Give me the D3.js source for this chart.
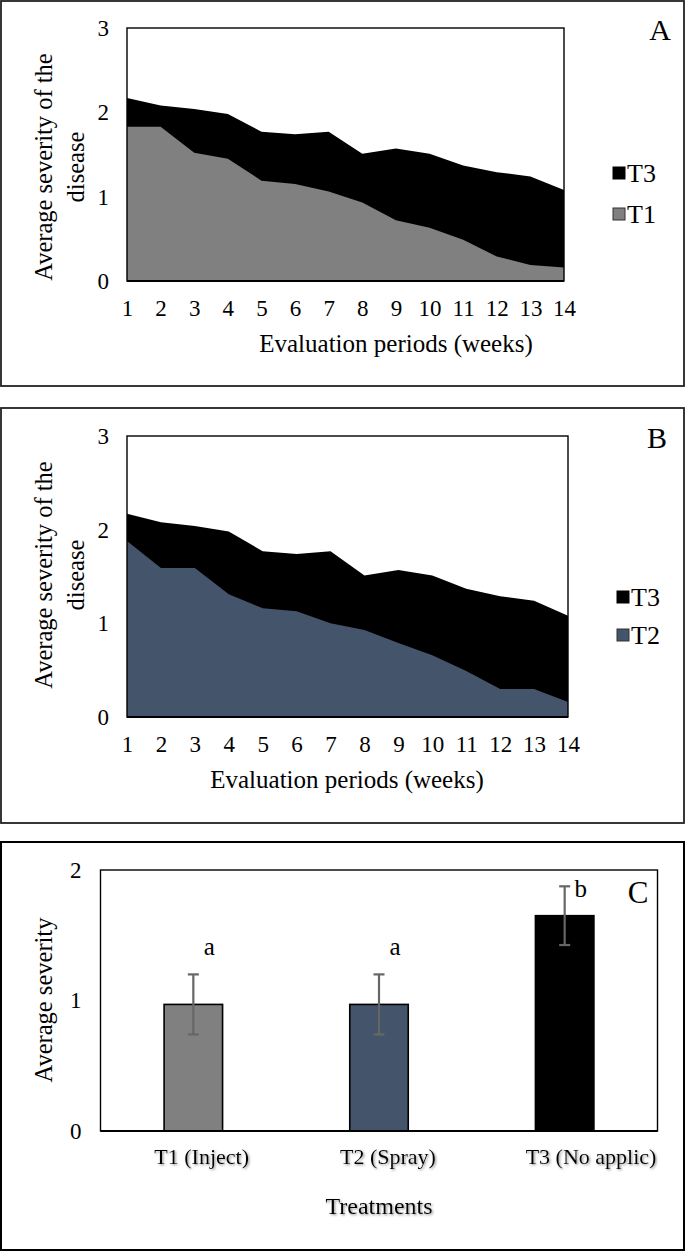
<!DOCTYPE html>
<html>
<head>
<meta charset="utf-8">
<script src="https://cdn.jsdelivr.net/npm/d3@7"></script>
<style>
  html, body { margin: 0; padding: 0; background: #fff; }
  svg { display: block; }
  text { font-family: "Liberation Serif", "Times New Roman", serif; fill: #000; }
</style>
</head>
<body>
<script>
// ---------------- DATA ----------------
const weeks = [1, 2, 3, 4, 5, 6, 7, 8, 9, 10, 11, 12, 13, 14];
const t3Severity = [2.17, 2.08, 2.04, 1.98, 1.77, 1.74, 1.77, 1.51, 1.57, 1.51, 1.37, 1.29, 1.24, 1.08];
const t1Severity = [1.83, 1.83, 1.52, 1.45, 1.19, 1.15, 1.06, 0.93, 0.72, 0.63, 0.49, 0.29, 0.19, 0.16];
const t2Severity = [1.88, 1.59, 1.59, 1.31, 1.16, 1.13, 1.00, 0.93, 0.79, 0.66, 0.49, 0.30, 0.30, 0.16];
const yTicksWeekly = [0, 1, 2, 3];

const treatments = ["T1 (Inject)", "T2 (Spray)", "T3 (No applic)"];
const meanSeverity = [0.97, 0.97, 1.65];
const errorSeverity = [0.23, 0.23, 0.225];
const groupLetters = ["a", "a", "b"];
const yTicksMean = [0, 1, 2];

// ---------------- STYLE / LAYOUT ----------------
const W = 685, H = 1252;
const colT1 = "#808080", colT2 = "#44546a", colT3 = "#000000";

const svg = d3.select("body").append("svg").attr("width", W).attr("height", H);
const defs = svg.append("defs");
const f = defs.append("filter").attr("id", "shadow").attr("x", "-10%").attr("y", "-30%").attr("width", "130%").attr("height", "170%");
f.append("feDropShadow").attr("dx", 1.2).attr("dy", 1.2).attr("stdDeviation", 0.9).attr("flood-color", "#777").attr("flood-opacity", 0.8);

function drawWeeklyPanel(cfg) {
  const g = svg.append("g");
  g.append("rect").attr("x", cfg.frame.x).attr("y", cfg.frame.y)
    .attr("width", cfg.frame.w).attr("height", cfg.frame.h)
    .attr("fill", "none").attr("stroke", "#222").attr("stroke-width", 1.8);

  const x = d3.scaleLinear().domain([1, 14]).range([cfg.plot.l, cfg.plot.r]);
  const y = d3.scaleLinear().domain([0, 3]).range([cfg.plot.b, cfg.plot.t]);

  const area = d3.area().x((d, i) => x(weeks[i])).y0(y(0)).y1(d => y(d)).curve(d3.curveLinear);

  g.append("path").datum(t3Severity).attr("d", area).attr("fill", colT3);
  g.append("path").datum(cfg.series).attr("d", area).attr("fill", cfg.color);

  g.append("rect").attr("x", cfg.plot.l).attr("y", cfg.plot.t)
    .attr("width", cfg.plot.r - cfg.plot.l).attr("height", cfg.plot.b - cfg.plot.t)
    .attr("fill", "none").attr("stroke", "#000").attr("stroke-width", 1.4);
  g.append("line").attr("x1", cfg.plot.l).attr("x2", cfg.plot.r)
    .attr("y1", cfg.plot.b).attr("y2", cfg.plot.b).attr("stroke", "#000").attr("stroke-width", 2);

  const xa = g.append("g").attr("transform", `translate(0,${cfg.plot.b})`)
    .call(d3.axisBottom(x).tickValues(weeks).tickFormat(d3.format("d")).tickSize(0).tickPadding(19));
  xa.select(".domain").remove();
  xa.selectAll("text").attr("font-size", 23).attr("font-family", "Liberation Serif").attr("fill", "#000");

  const ya = g.append("g").attr("transform", `translate(${cfg.plot.l},0)`)
    .call(d3.axisLeft(y).tickValues(yTicksWeekly).tickFormat(d3.format("d")).tickSize(0).tickPadding(18));
  ya.select(".domain").remove();
  ya.selectAll("text").attr("font-size", 23).attr("font-family", "Liberation Serif").attr("fill", "#000");

  g.append("text").attr("x", cfg.xTitle[0]).attr("y", cfg.xTitle[1])
    .attr("text-anchor", "middle").attr("dominant-baseline", "central")
    .attr("font-size", 25).text("Evaluation periods (weeks)");
  const yt = g.append("text").attr("transform", `translate(${cfg.yTitle[0]},${cfg.yTitle[1]}) rotate(-90)`)
    .attr("text-anchor", "middle").attr("font-size", 24.5);
  yt.append("tspan").attr("x", 0).attr("y", 0).text("Average severity of the");
  yt.append("tspan").attr("x", 0).attr("y", 32).text("disease");

  const leg = [{ name: "T3", color: colT3 }, { name: cfg.name, color: cfg.color }];
  leg.forEach((d, i) => {
    const cy = cfg.legend.y[i];
    g.append("rect").attr("x", cfg.legend.x).attr("y", cy - 6).attr("width", 12).attr("height", 12)
      .attr("fill", d.color).attr("stroke", i === 0 ? "#000" : "#333").attr("stroke-width", 1);
    g.append("text").attr("x", cfg.legend.x + 14).attr("y", cy).attr("dominant-baseline", "central")
      .attr("font-size", 26).attr("fill", cfg.legendText).text(d.name);
  });

  g.append("text").attr("x", cfg.letter[0]).attr("y", cfg.letter[1])
    .attr("text-anchor", "middle").attr("dominant-baseline", "central")
    .attr("font-size", 30).text(cfg.letterText);
}

drawWeeklyPanel({
  frame: { x: 1, y: 1, w: 683, h: 385 },
  plot: { l: 127, r: 564, t: 28, b: 281 },
  series: t1Severity, color: colT1, name: "T1",
  xTitle: [396, 343], yTitle: [52, 167],
  legend: { x: 613, y: [173, 214] }, legendText: "#555",
  letter: [660, 29], letterText: "A"
});

drawWeeklyPanel({
  frame: { x: 1, y: 408, w: 683, h: 415 },
  plot: { l: 127, r: 568, t: 436, b: 717 },
  series: t2Severity, color: colT2, name: "T2",
  xTitle: [347, 779], yTitle: [52, 575],
  legend: { x: 617, y: [597, 635] }, legendText: "#000",
  letter: [657, 437], letterText: "B"
});

// ---------------- PANEL C ----------------
(function () {
  const g = svg.append("g");
  const P = { l: 100.5, r: 657.5, t: 870, b: 1131 };
  g.append("rect").attr("x", 1).attr("y", 842).attr("width", 683).attr("height", 408)
    .attr("fill", "none").attr("stroke", "#000").attr("stroke-width", 2);

  const x = d3.scaleBand().domain(treatments).range([P.l, P.r]).paddingInner(0.685).paddingOuter(0.3425);
  const y = d3.scaleLinear().domain([0, 2]).range([P.b, P.t]);
  const colors = [colT1, colT2, colT3];

  g.append("rect").attr("x", P.l).attr("y", P.t).attr("width", P.r - P.l).attr("height", P.b - P.t)
    .attr("fill", "none").attr("stroke", "#000").attr("stroke-width", 1.4);

  treatments.forEach((t, i) => {
    g.append("rect").attr("x", x(t)).attr("y", y(meanSeverity[i]))
      .attr("width", x.bandwidth()).attr("height", y(0) - y(meanSeverity[i]))
      .attr("fill", colors[i]).attr("stroke", "#000").attr("stroke-width", 1.6);
  });

  g.append("line").attr("x1", P.l).attr("x2", P.r).attr("y1", P.b).attr("y2", P.b)
    .attr("stroke", "#000").attr("stroke-width", 2.2);

  treatments.forEach((t, i) => {
    const cx = x(t) + x.bandwidth() / 2;
    const hi = y(meanSeverity[i] + errorSeverity[i]), lo = y(meanSeverity[i] - errorSeverity[i]);
    g.append("line").attr("x1", cx).attr("x2", cx).attr("y1", hi).attr("y2", lo)
      .attr("stroke", "#666").attr("stroke-width", 2.2);
    [hi, lo].forEach(yy => g.append("line").attr("x1", cx - 5.5).attr("x2", cx + 5.5)
      .attr("y1", yy).attr("y2", yy).attr("stroke", "#666").attr("stroke-width", 2.2));
    const ly = groupLetters[i] === "b" ? hi + 11 : hi - 19;
    g.append("text").attr("x", cx + 16).attr("y", ly).attr("text-anchor", "middle")
      .attr("font-size", 25).text(groupLetters[i]);
  });

  const ya = g.append("g").attr("transform", `translate(${P.l},0)`)
    .call(d3.axisLeft(y).tickValues(yTicksMean).tickFormat(d3.format("d")).tickSize(0).tickPadding(19));
  ya.select(".domain").remove();
  ya.selectAll("text").attr("font-size", 23).attr("font-family", "Liberation Serif").attr("fill", "#000");

  const xa = g.append("g").attr("transform", `translate(0,${P.b})`)
    .call(d3.axisBottom(x).tickSize(0).tickPadding(17));
  xa.select(".domain").remove();
  xa.selectAll("text").attr("font-size", 22).attr("font-family", "Liberation Serif").attr("fill", "#000")
    .attr("text-anchor", "start").attr("x", -39).attr("filter", "url(#shadow)");

  g.append("text").attr("x", (P.l + P.r) / 2).attr("y", 1206).attr("text-anchor", "middle")
    .attr("dominant-baseline", "central").attr("font-size", 24).attr("filter", "url(#shadow)").text("Treatments");

  g.append("text").attr("transform", `translate(52,1000) rotate(-90)`).attr("text-anchor", "middle")
    .attr("font-size", 24.5).text("Average severity");

  g.append("text").attr("x", 638).attr("y", 892).attr("text-anchor", "middle")
    .attr("dominant-baseline", "central").attr("font-size", 31).text("C");
})();
</script>
</body>
</html>
